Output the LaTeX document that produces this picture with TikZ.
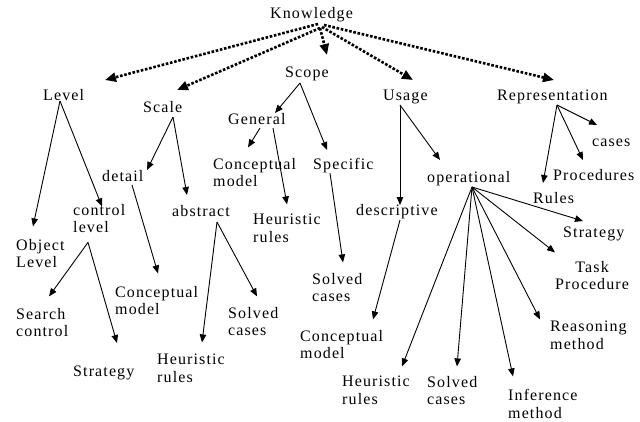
\documentclass[tikz,border=0pt]{standalone}
\usepackage{fontspec}
\setmainfont{Liberation Serif}[LetterSpace=7]
\usetikzlibrary{arrows.meta}
\begin{document}
\begin{tikzpicture}[x=1pt,y=-1pt,
  font=\fontsize{16}{17.5}\selectfont,
  lbl/.style={inner sep=0pt,anchor=base west},
  lbltwo/.style={inner sep=0pt,anchor=north west,align=left,yshift=0.6pt},
  arr/.style={line width=0.9pt,-{Triangle[length=8pt,width=6.5pt]}},
  dots/.style={line width=2.6pt,dash pattern=on 2.6pt off 1.7pt,-{Triangle[length=11pt,width=9pt]}}]
\useasboundingbox (0,0) rectangle (640,421);
% single-line labels
\node[lbl] (know) at (270,18) {Knowledge};
\node[lbl] (level) at (43,100) {Level};
\node[lbl] (scale) at (143,112) {Scale};
\node[lbl] (scope) at (285,77) {Scope};
\node[lbl] (general) at (228,124) {General};
\node[lbl] (usage) at (383,100) {Usage};
\node[lbl] (repr) at (497,100) {Representation};
\node[lbl] (detail) at (102,181) {detail};
\node[lbl] (abstract) at (172,216) {abstract};
\node[lbl] (specific) at (313,169) {Specific};
\node[lbl] (oper) at (427,182) {operational};
\node[lbl] (descr) at (356,215) {descriptive};
\node[lbl] (cases) at (592,146) {cases};
\node[lbl] (proc) at (553,180) {Procedures};
\node[lbl] (rules) at (533,203) {Rules};
\node[lbl] (stratR) at (563,237) {Strategy};
\node[lbl] (stratL) at (73,376) {Strategy};
% two-line labels
\node[lbltwo] (objl) at (16,239.7) {Object\\Level};
\node[lbltwo] (ctrl) at (73,204.7) {control\\level};
\node[lbltwo] (search) at (16,308.7) {Search\\control};
\node[lbltwo] (cmScale) at (115,286.7) {Conceptual\\model};
\node[lbltwo] (hrAbs) at (157,354.7) {Heuristic\\rules};
\node[lbltwo] (scAbs) at (228,307.7) {Solved\\cases};
\node[lbltwo] (cmGen) at (213,158.7) {Conceptual\\model};
\node[lbltwo] (hrGen) at (253,214.7) {Heuristic\\rules};
\node[lbltwo] (scSpec) at (312,273.7) {Solved\\cases};
\node[lbltwo] (cmDesc) at (300,330.7) {Conceptual\\model};
\node[lbltwo,align=center] (task) at (555,261.7) {Task\\Procedure};
\node[lbltwo] (reason) at (550,321.7) {Reasoning\\method};
\node[lbltwo] (hrOp) at (342,376.7) {Heuristic\\rules};
\node[lbltwo] (scOp) at (427,376.7) {Solved\\cases};
\node[lbltwo] (infer) at (508,389.7) {Inference\\method};
% dotted connectors
\draw[dots] ([shift={(48,6)}]know.base west) -- ([shift={(62,-20)}]level.base west);
\draw[dots] ([shift={(50,10)}]know.base west) -- ([shift={(34,-22)}]scale.base west);
\draw[dots] ([shift={(50,10)}]know.base west) -- ([shift={(42,-22)}]scope.base west);
\draw[dots] ([shift={(52,9)}]know.base west) -- ([shift={(30,-20)}]usage.base west);
\draw[dots] ([shift={(54,7)}]know.base west) -- ([shift={(57,-20)}]repr.base west);
% solid connectors
\draw[arr] ([shift={(17,1)}]level.base west) -- ([shift={(17,-12.7)}]objl.north west);
\draw[arr] ([shift={(17,1)}]level.base west) -- ([shift={(29,2.3)}]ctrl.north west);
\draw[arr] ([shift={(30,5)}]scale.base west) -- ([shift={(45,-11)}]detail.base west);
\draw[arr] ([shift={(30,5)}]scale.base west) -- ([shift={(15,-21)}]abstract.base west);
\draw[arr] ([shift={(30,4)}]detail.base west) -- ([shift={(43,-12.7)}]cmScale.north west);
\draw[arr] ([shift={(15,38.3)}]ctrl.north west) -- ([shift={(33,-11.7)}]search.north west);
\draw[arr] ([shift={(15,38.3)}]ctrl.north west) -- ([shift={(44,-33)}]stratL.base west);
\draw[arr] ([shift={(45,6)}]abstract.base west) -- ([shift={(45,-11.7)}]hrAbs.north west);
\draw[arr] ([shift={(45,6)}]abstract.base west) -- ([shift={(29,-10.7)}]scAbs.north west);
\draw[arr] ([shift={(15,6)}]scope.base west) -- ([shift={(47,-11)}]general.base west);
\draw[arr] ([shift={(15,6)}]scope.base west) -- ([shift={(14,-19)}]specific.base west);
\draw[arr] ([shift={(32,4)}]general.base west) -- ([shift={(35,-10.7)}]cmGen.north west);
\draw[arr] ([shift={(45,4)}]general.base west) -- ([shift={(34,-9.7)}]hrGen.north west);
\draw[arr] ([shift={(17,4)}]specific.base west) -- ([shift={(31,-10.7)}]scSpec.north west);
\draw[arr] ([shift={(17,5)}]usage.base west) -- ([shift={(44,-10)}]descr.base west);
\draw[arr] ([shift={(17,5)}]usage.base west) -- ([shift={(13,-22)}]oper.base west);
\draw[arr] ([shift={(44,5)}]descr.base west) -- ([shift={(73,-10.7)}]cmDesc.north west);
\draw[arr] ([shift={(45,5)}]oper.base west) -- ([shift={(20,-16)}]stratR.base west);
\draw[arr] ([shift={(45,5)}]oper.base west) -- ([shift={(0,-8.7)}]task.north west);
\draw[arr] ([shift={(45,5)}]oper.base west) -- ([shift={(-10,-1.7)}]reason.north west);
\draw[arr] ([shift={(45,5)}]oper.base west) -- ([shift={(5,-12.7)}]infer.north west);
\draw[arr] ([shift={(45,5)}]oper.base west) -- ([shift={(30,-9.7)}]scOp.north west);
\draw[arr] ([shift={(45,5)}]oper.base west) -- ([shift={(60,-9.7)}]hrOp.north west);
\draw[arr] ([shift={(60,5)}]repr.base west) -- ([shift={(5,-21)}]cases.base west);
\draw[arr] ([shift={(60,5)}]repr.base west) -- ([shift={(30,-20)}]proc.base west);
\draw[arr] ([shift={(60,5)}]repr.base west) -- ([shift={(10,-20)}]rules.base west);
\end{tikzpicture}
\end{document}
